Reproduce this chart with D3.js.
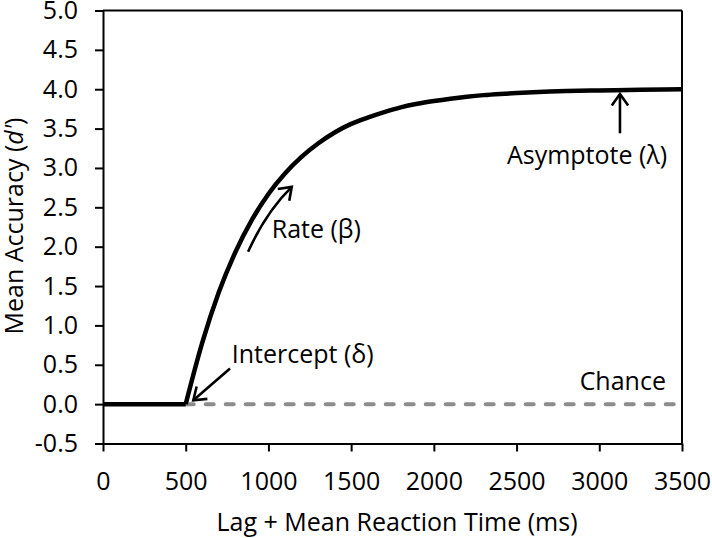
<!DOCTYPE html>
<html>
<head>
<meta charset="utf-8">
<script src="https://cdn.jsdelivr.net/npm/d3@7"></script>
<style>
  body { margin: 0; background: #fff; }
  svg text { font-family: 'Open Sans', sans-serif; }
</style>
</head>
<body>
<svg id="chart"></svg>
<script>
// Data
var xTicks = [0, 500, 1000, 1500, 2000, 2500, 3000, 3500];
var yTicks = [-0.5, 0, 0.5, 1, 1.5, 2, 2.5, 3, 3.5, 4, 4.5, 5];
var yTickLabels = ["-0.5", "0.0", "0.5", "1.0", "1.5", "2.0", "2.5", "3.0", "3.5", "4.0", "4.5", "5.0"];

// accuracy curve (ms, d')
var lagMs = [0, 500, 600, 700, 800, 900, 1000, 1100, 1200, 1300, 1400, 1500, 1600, 1700, 1800, 1900, 2000,
    2100, 2200, 2300, 2400, 2500, 2600, 2700, 2800, 3000, 3250, 3500];
var accuracy = [0, 0, 0.78, 1.42, 1.93, 2.34, 2.67, 2.93, 3.14, 3.31, 3.45, 3.56, 3.64, 3.71, 3.77, 3.815, 3.85,
    3.88, 3.905, 3.925, 3.94, 3.952, 3.962, 3.97, 3.976, 3.985, 3.993, 4.0];

// chance line
var chanceMs = [500, 3500];
var chanceLevel = [0, 0];

var svg_width = 712,
    svg_height = 538;
var margin = {top: 10.5, right: 30, bottom: 94.5, left: 103};
var plot_width = 682 - margin.left,
    plot_height = svg_height - margin.top - margin.bottom;
var font = "25px";

var svg = d3.select("#chart")
    .attr("width", svg_width)
    .attr("height", svg_height);

var x = d3.scaleLinear().domain([0, 3500]).range([margin.left, margin.left + plot_width]);
var y = d3.scaleLinear().domain([-0.5, 5]).range([margin.top + plot_height, margin.top]);

// frame: top and right
svg.append("line")
    .attr("x1", x(0)).attr("x2", x(3500))
    .attr("y1", y(5)).attr("y2", y(5))
    .attr("stroke", "#000").attr("stroke-width", 2);
svg.append("line")
    .attr("x1", x(3500)).attr("x2", x(3500))
    .attr("y1", y(5)).attr("y2", y(-0.5))
    .attr("stroke", "#000").attr("stroke-width", 2);

// axes
var xAxis = svg.append("g")
    .attr("transform", "translate(0," + y(-0.5) + ")")
    .call(d3.axisBottom(x).tickValues(xTicks).tickSize(8).tickSizeOuter(0).tickPadding(21).tickFormat(d3.format("d")));

var yAxis = svg.append("g")
    .attr("transform", "translate(" + x(0) + ",0)")
    .call(d3.axisLeft(y).tickValues(yTicks).tickSize(8).tickSizeOuter(0).tickPadding(17)
        .tickFormat(function(d, i) { return yTickLabels[i]; }));

[xAxis, yAxis].forEach(function(ax) {
    ax.selectAll("path, line").attr("stroke", "#000").attr("stroke-width", 2);
    ax.selectAll("text")
        .attr("fill", "#000")
        .style("font-size", font);
});

// axis titles
svg.append("text")
    .text("Lag + Mean Reaction Time (ms)")
    .attr("x", 397)
    .attr("y", 531)
    .attr("text-anchor", "middle")
    .style("font-size", font);

var yTitle = svg.append("text")
    .attr("transform", "translate(23," + 226 + ") rotate(-90)")
    .attr("text-anchor", "middle")
    .style("font-size", font);
yTitle.append("tspan").text("Mean Accuracy (");
yTitle.append("tspan").text("d'").style("font-style", "italic");
yTitle.append("tspan").text(")");

// chance line
var chance = chanceMs.map(function(d, i) { return [d, chanceLevel[i]]; });
svg.append("path")
    .datum(chance)
    .attr("d", d3.line().x(d => x(d[0])).y(d => y(d[1])))
    .attr("fill", "none")
    .attr("stroke", "#8c8c8c")
    .attr("stroke-width", 4)
    .attr("stroke-linecap", "round")
    .attr("stroke-dasharray", "8,12");

// accuracy curve: flat until intercept, then rising
var pts = lagMs.map(function(d, i) { return [d, accuracy[i]]; });
var line = d3.line().x(d => x(d[0])).y(d => y(d[1]));

svg.append("path")
    .datum(pts.slice(0, 2))
    .attr("d", line)
    .attr("fill", "none")
    .attr("stroke", "#000")
    .attr("stroke-width", 4.5);

svg.append("path")
    .datum(pts.slice(1))
    .attr("d", line.curve(d3.curveMonotoneX))
    .attr("fill", "none")
    .attr("stroke", "#000")
    .attr("stroke-width", 4.5);

// arrow marker
svg.append("defs").append("marker")
    .attr("id", "arrow")
    .attr("markerUnits", "userSpaceOnUse")
    .attr("viewBox", "-16 -12 20 24")
    .attr("markerWidth", 20)
    .attr("markerHeight", 24)
    .attr("refX", 0)
    .attr("refY", 0)
    .attr("orient", "auto")
    .append("path")
    .attr("d", "M-11.5,-8.2L0,0L-11.5,8.2")
    .attr("fill", "none")
    .attr("stroke", "#000")
    .attr("stroke-width", 2.6);

// annotations
var notes = svg.append("g").attr("id", "notes");

// asymptote
notes.append("line")
    .attr("x1", x(3125)).attr("y1", y(3.44))
    .attr("x2", x(3125)).attr("y2", y(3.94))
    .attr("stroke", "#000").attr("stroke-width", 2.6)
    .attr("marker-end", "url(#arrow)");
notes.append("text")
    .text("Asymptote (λ)")
    .attr("x", x(2926)).attr("y", y(3.05))
    .attr("text-anchor", "middle")
    .style("font-size", font);

// rate
notes.append("path")
    .attr("d", "M" + x(877) + "," + y(1.935) + "Q" + x(985) + "," + y(2.44) + " " + x(1141) + "," + y(2.76))
    .attr("fill", "none")
    .attr("stroke", "#000").attr("stroke-width", 2.6)
    .attr("marker-end", "url(#arrow)");
notes.append("text")
    .text("Rate (β)")
    .attr("x", x(1020)).attr("y", y(2.105))
    .style("font-size", font);

// intercept
notes.append("line")
    .attr("x1", x(768)).attr("y1", y(0.454))
    .attr("x2", x(546)).attr("y2", y(0.05))
    .attr("stroke", "#000").attr("stroke-width", 2.6)
    .attr("marker-end", "url(#arrow)");
notes.append("text")
    .text("Intercept (δ)")
    .attr("x", x(778)).attr("y", y(0.52))
    .style("font-size", font);

// chance
notes.append("text")
    .text("Chance")
    .attr("x", x(3403)).attr("y", y(0.18))
    .attr("text-anchor", "end")
    .style("font-size", font);
</script>
</body>
</html>
